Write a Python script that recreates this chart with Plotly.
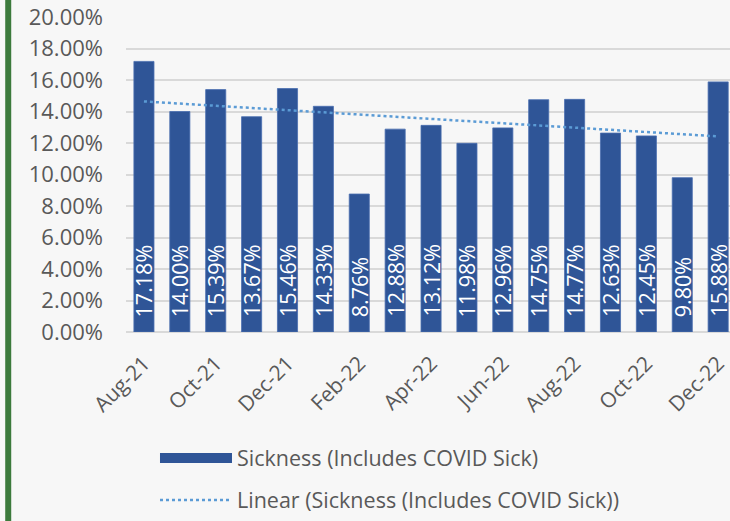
import numpy as np
import plotly.graph_objects as go

months = ["Aug-21", "Sep-21", "Oct-21", "Nov-21", "Dec-21", "Jan-22", "Feb-22", "Mar-22",
          "Apr-22", "May-22", "Jun-22", "Jul-22", "Aug-22", "Sep-22", "Oct-22", "Nov-22", "Dec-22"]
sickness = [0.1718, 0.1400, 0.1539, 0.1367, 0.1546, 0.1433, 0.0876, 0.1288,
            0.1312, 0.1198, 0.1296, 0.1475, 0.1477, 0.1263, 0.1245, 0.0980, 0.1588]
tick_labels = months[::2]

idx = np.arange(len(sickness))
slope, intercept = np.polyfit(idx, sickness, 1)
trend = slope * idx + intercept
labels = [f"{v*100:.2f}%" for v in sickness]

BLUE = "#2F5597"
TREND = "#5B9BD5"
GRAY = "#595959"
FONT = "Open Sans"

fig = go.Figure()
fig.add_trace(go.Bar(
    x=idx, y=sickness, width=0.56,
    marker=dict(color=BLUE, line=dict(color="#4A6FB0", width=0.8)),
    showlegend=False, hoverinfo="skip",
))
fig.add_trace(go.Scatter(
    x=idx, y=trend, mode="lines",
    line=dict(color=TREND, width=2.5, dash="dot"),
    showlegend=False, hoverinfo="skip",
))
# legend entries
fig.add_trace(go.Scatter(
    x=[None], y=[None], mode="lines", name="Sickness (Includes COVID Sick)",
    line=dict(color=BLUE, width=12), legendgroup="a",
))
fig.add_trace(go.Scatter(
    x=[None], y=[None], mode="lines", name="Linear (Sickness (Includes COVID Sick))",
    line=dict(color=TREND, width=2.5, dash="dot"), legendgroup="b",
))

annotations = [
    dict(x=xi, y=0, xref="x", yref="y", text=t, textangle=-90, showarrow=False,
         xanchor="center", yanchor="bottom", yshift=14, borderpad=0,
         font=dict(color="white", size=21.5, family=FONT))
    for xi, t in zip(idx.tolist(), labels)
]

fig.update_layout(
    width=730, height=521,
    paper_bgcolor="#F7F7F7", plot_bgcolor="#F7F7F7",
    margin=dict(l=126, r=0, t=17, b=189),
    font=dict(family=FONT, color=GRAY, size=21),
    annotations=annotations,
    legend=dict(
        x=0.048, y=-0.335, xanchor="left", yanchor="top",
        font=dict(size=21.5, color=GRAY, family=FONT),
        itemwidth=72, tracegroupgap=11, bgcolor="rgba(0,0,0,0)",
    ),
    shapes=[dict(type="line", xref="paper", yref="paper",
                 x0=-0.195, x1=-0.195, y0=-0.7, y1=1.1,
                 line=dict(color="#3C7A3C", width=6))],
)
fig.update_xaxes(
    range=[-0.5, 16.33],
    tickmode="array", tickvals=idx[::2], ticktext=tick_labels,
    tickangle=-45, showgrid=False, showline=False, ticks="",
    ticklabeloverflow="allow", ticklabelstandoff=14,
    tickfont=dict(size=21, color=GRAY, family=FONT),
)
fig.update_yaxes(
    range=[0, 0.2], dtick=0.02, tickformat=".2%",
    showgrid=True, gridcolor="#D9D9D9", gridwidth=1.5,
    zeroline=True, zerolinecolor="#D9D9D9", zerolinewidth=1.5,
    ticklabelstandoff=22,
    tickfont=dict(size=22, color=GRAY, family=FONT),
)

fig.write_html(
    "out.html",
    config={"displayModeBar": False},
    post_script="document.body.style.margin='0';document.body.style.overflow='hidden';"
                "document.body.style.background='#F7F7F7';",
)
